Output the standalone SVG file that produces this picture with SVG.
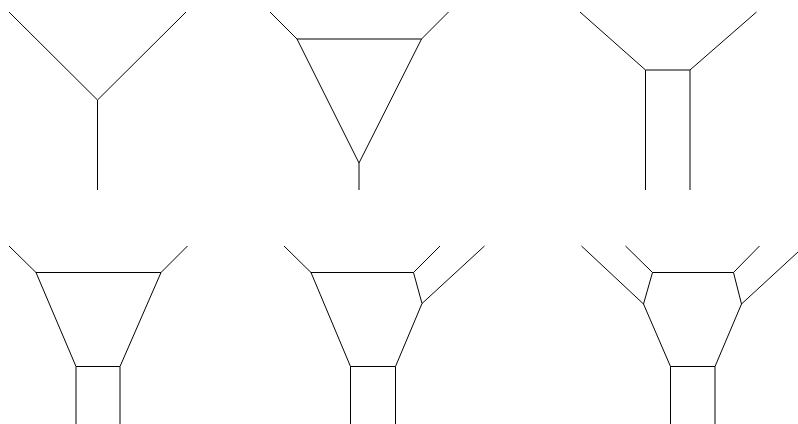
<svg xmlns="http://www.w3.org/2000/svg" width="798" height="424" viewBox="0 0 798 424">
<style>
.e{fill:none;stroke:#000;stroke-width:1;stroke-linejoin:miter;stroke-linecap:butt}
</style>
<rect width="798" height="424" fill="#fff"/>
<g id="connectors">
<g id="fig1">
<path class="e" d="M9,12 L97.5,100 L186,12"/>
<path class="e" d="M97.5,100 L97.5,190"/>
</g>
<g id="fig2">
<path class="e" d="M270,12 L297,39 L421.5,39 L448.5,12"/>
<path class="e" d="M297,39 L359,163 L421.5,39"/>
<path class="e" d="M359,163 L359,190"/>
</g>
<g id="fig3">
<path class="e" d="M580,12 L645.5,70 L690,70 L756.5,12"/>
<path class="e" d="M645.5,70 L645.5,190"/>
<path class="e" d="M690,70 L690,190"/>
</g>
<g id="fig4">
<path class="e" d="M9,246 L36,272.5 L161,272.5 L187.5,246"/>
<path class="e" d="M36,272.5 L76,366.5 L120,366.5 L161,272.5"/>
<path class="e" d="M76,366.5 L76,424"/>
<path class="e" d="M120,366.5 L120,424"/>
</g>
<g id="fig5">
<path class="e" d="M284,246 L311,272.5 L413.5,272.5 L440,246"/>
<path class="e" d="M413.5,272.5 L422,303.5 L484.5,246"/>
<path class="e" d="M311,272.5 L350.5,366.5 L395.5,366.5 L422,303.5"/>
<path class="e" d="M350.5,366.5 L350.5,424"/>
<path class="e" d="M395.5,366.5 L395.5,424"/>
</g>
<g id="fig6">
<path class="e" d="M581.5,246 L643.5,304 L652.5,272.5 L733.5,272.5 L741.5,304 L804.5,246"/>
<path class="e" d="M625.5,246 L652.5,272.5"/>
<path class="e" d="M733.5,272.5 L759.5,246"/>
<path class="e" d="M643.5,304 L670.5,366.5 L715,366.5 L741.5,304"/>
<path class="e" d="M670.5,366.5 L670.5,424"/>
<path class="e" d="M715,366.5 L715,424"/>
</g>
</g>
</svg>
